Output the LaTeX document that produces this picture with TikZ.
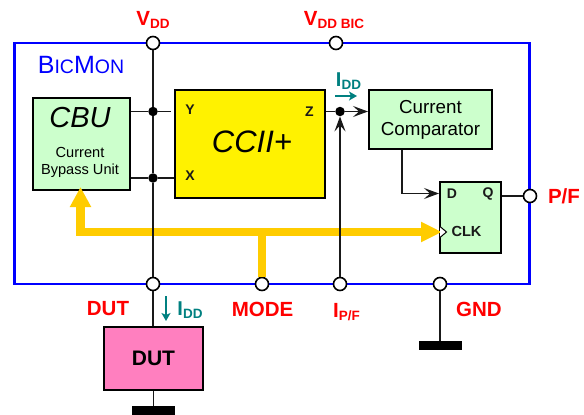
\documentclass[tikz,border=0pt]{standalone}
\usepackage{fontspec}
\setmainfont{Liberation Sans}
\usepackage{xcolor}
\usetikzlibrary{shapes,arrows,arrows.meta,positioning,calc}

\definecolor{blockgreen}{HTML}{CCFFCC}
\definecolor{dutpink}{HTML}{FF7FBF}
\definecolor{busorange}{HTML}{FFCC00}
\definecolor{currentteal}{HTML}{008080}

\newcommand{\fsz}[1]{\fontsize{#1}{#1}\selectfont}
\newcommand{\lowtxt}[2]{\raisebox{-2.5pt}{\fsz{#1}#2}}

\tikzset{
    block/.style={draw=black, line width=2pt, minimum width=#1, inner sep=0pt, align=center},
    pin/.style={circle, draw=black, fill=white, line width=1.6pt, minimum size=13pt, inner sep=0pt},
    junction/.style={circle, fill=black, minimum size=9.5pt, inner sep=0pt},
    groundbar/.style={fill=black, minimum width=43pt, minimum height=9pt, inner sep=0pt},
    wire/.style={line width=1.5pt, draw=black!90},
    sigarrow/.style={-{Stealth[length=15pt,width=11pt,inset=6pt]}},
    modebus/.style={line width=8.5pt, draw=busorange},
    redlabel/.style={text=red, font=\bfseries\fsz{20.5}, inner sep=0pt},
    pinname/.style={font=\bfseries\fsz{14}, text=black!90, inner sep=0pt},
    currentlabel/.style={text=currentteal, font=\bfseries\fsz{20}, inner sep=0pt},
    currentarrow/.style={line width=1.3pt, draw=currentteal, -{Stealth[length=8pt,width=9pt,inset=2pt]}}
}

\begin{document}
\begin{tikzpicture}[x=1pt, y=-1pt]
    \useasboundingbox (0,0) rectangle (584,415);

    % BicMon boundary
    \node[draw=blue, line width=2.6pt, minimum width=515pt, minimum height=241pt, inner sep=0pt] (bicmon) at (272,163.5) {};
    \node[text=blue, inner sep=0pt] (bicname) at (81,65) {\fsz{25}B\fsz{19.5}IC\fsz{25}M\fsz{19.5}ON};

    % Blocks
    \node[block=97pt, minimum height=92pt, fill=blockgreen] (cbu) at (81.5,144) {};
    \node[inner sep=0pt, font=\itshape\fsz{29}] (cbuname) at (80,117.5) {CBU};
    \node[inner sep=0pt, font=\fsz{14.6}, align=center] (cbutext) at (80,162.5) {Current\\[3pt]Bypass Unit};
    \node[block=150pt, minimum height=108pt, fill=yellow, font=\itshape\fsz{31}] (ccii) at (250,144) {};
    \node[inner sep=0pt, font=\itshape\fsz{31}] (cciiname) at (252,142) {CCII+};
    \node[block=123pt, minimum height=59pt, fill=blockgreen, font=\fsz{18.8}] (comparator) at (430.5,119.5) {Current\\[3pt]Comparator};
    \node[block=61pt, minimum height=71pt, fill=blockgreen] (flipflop) at (470.5,217.5) {};
    \node[block=99pt, minimum height=63pt, fill=dutpink, font=\bfseries\fsz{21}] (dut) at (153.5,358.5) {DUT};

    % Pins on the boundary
    \node[pin] (vddpin) at (153,43) {};
    \node[pin] (vddbicpin) at (336,43) {};
    \node[pin] (dutpin) at (153,284) {};
    \node[pin] (modepin) at (262,284) {};
    \node[pin] (ipfpin) at (340,284) {};
    \node[pin] (gndpin) at (440,284) {};
    \node[pin] (pfpin) at (530,196) {};

    % Internal points
    \node[junction] (ydot) at (153,111.5) {};
    \node[junction] (xdot) at (153,178) {};
    \node[junction] (zdot) at (340,111.5) {};
    \coordinate (busjoin) at (262,232);
    \coordinate (buscorner) at (80.5,232);
    \coordinate (cbutip) at (80.5,187);
    \coordinate (clktip) at (442,232);

    % Mode bus
    \draw[modebus] (busjoin) -- (modepin.north);
    \draw[modebus, {Triangle[length=20pt,width=20pt]}-{Triangle[length=21pt,width=19pt]}, line join=miter] (cbutip) -- (buscorner) -- (clktip);

    % Supply line and Y / X
    \draw[wire] (vddpin) -- (ydot) -- (xdot) -- (dutpin) -- (dut.north -| dutpin);
    \draw[wire, shorten >=3pt] (ydot -| cbu.east) -- (ydot) -- (ydot -| ccii.west);
    \draw[wire] (xdot -| cbu.east) -- (xdot) -- (xdot -| ccii.west);

    % Current output
    \draw[wire] (zdot -| ccii.east) -- (zdot);
    \draw[wire, sigarrow] (zdot) -- (zdot -| comparator.west);
    \draw[wire, sigarrow] (ipfpin) -- (zdot);
    \coordinate (dcorner) at (402,193.5);
    \draw[wire, sigarrow] (dcorner |- comparator.south) -- (dcorner) -- (dcorner -| flipflop.west);
    \draw[wire] (pfpin -| flipflop.east) -- (pfpin);

    % Clock mark
    \draw[line width=1pt, fill=white] (440,226.5) -- (446.5,232) -- (440,237.5);

    % Flip flop pins
    \node[pinname] (ypin) at (190,110) {Y};
    \node[pinname] (xpin) at (190,176) {X};
    \node[pinname] (zpin) at (309.5,112) {Z};
    \node[pinname] (dpin) at (452,194) {D};
    \node[pinname] (qpin) at (488,194) {Q};
    \node[pinname, font=\bfseries\fsz{14.6}] (clkpin) at (466.5,231) {CLK};

    % Ground
    \node[groundbar] (dutgnd) at (153.5,410.5) {};
    \node[groundbar] (gndbar) at (440,345.5) {};
    \draw[wire] (dut.south) -- (dutgnd.north);
    \draw[wire] (gndpin) -- (gndbar.north);

    % Labels
    \node[redlabel] (vddlabel) at (153,20) {V\lowtxt{13.5}{DD}};
    \node[redlabel] (vddbiclabel) at (334,20) {V\lowtxt{13.5}{DD BIC}};
    \node[redlabel] (dutlabel) at (108,309) {DUT};
    \node[redlabel] (modelabel) at (262.5,309) {MODE};
    \node[redlabel] (ipflabel) at (346.5,312) {I\lowtxt{13.5}{P/F}};
    \node[redlabel] (gndlabel) at (479,309) {GND};
    \node[redlabel] (pflabel) at (564,196) {P/F};

    % Currents
    \node[currentlabel] (idd_top) at (348.5,81) {I\lowtxt{13.5}{DD}};
    \node[currentlabel] (idd_bot) at (190,310) {I\lowtxt{13.5}{DD}};
    \coordinate (toparrow_a) at (335,96);
    \coordinate (toparrow_b) at (357,96);
    \coordinate (botarrow_a) at (166,296);
    \coordinate (botarrow_b) at (166,321);
    \draw[currentarrow] (toparrow_a) -- (toparrow_b);
    \draw[currentarrow] (botarrow_a) -- (botarrow_b);
\end{tikzpicture}
\end{document}
